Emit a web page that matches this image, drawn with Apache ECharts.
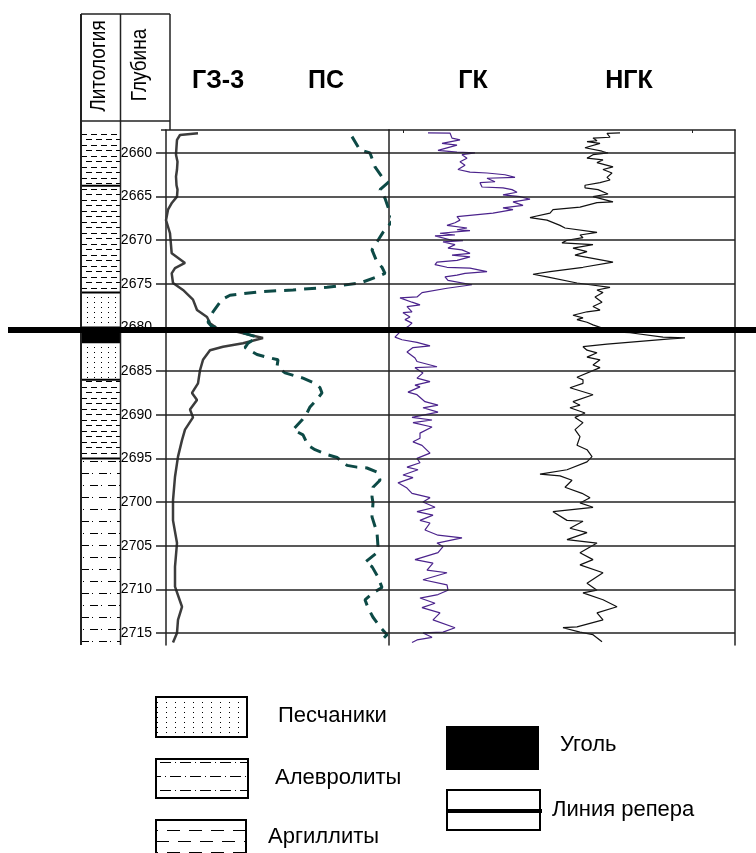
<!DOCTYPE html>
<html>
<head>
<meta charset="utf-8">
<script src="https://cdn.jsdelivr.net/npm/echarts@6/dist/echarts.min.js"></script>
<style>
  html, body { margin: 0; padding: 0; background: #fff; }
  #c { width: 756px; height: 853px; }
</style>
</head>
<body>
<div id="c"></div>
<script>
// ---- Depth scale (m) ----
const depthMin = 2657.37;
const depthMax = 2716.38;
const depthTicks = [2660, 2665, 2670, 2675, 2680, 2685, 2690, 2695, 2700, 2705, 2710, 2715];
const markerDepth = 2680.3;            // reference horizon (линия репера)
const trackTitles = ['ГЗ-3', 'ПС', 'ГК', 'НГК'];
const headerTitles = ['Литология', 'Глубина'];

// ---- Lithology column ----
const lithTop    = [2657.37, 2663.75, 2676.0, 2680.0, 2681.7, 2686.0, 2695.0];
const lithBottom = [2663.75, 2676.0, 2680.0, 2681.7, 2686.0, 2695.0, 2716.38];
const lithType   = ['clay', 'clay', 'sand', 'coal', 'sand', 'clay', 'silt'];
const lithNames  = { sand: 'Песчаники', silt: 'Алевролиты', clay: 'Аргиллиты', coal: 'Уголь' };
const markerName = 'Линия репера';

// ---- Log curves: [depth, reading] ----
const gz3 = [
  [2657.74, 3.2], [2657.94, 1.4], [2658.5, 1.1], [2659.3, 1.05], [2660.2, 1.0], [2661.0, 1.15],
  [2661.9, 1.1], [2662.7, 1.0], [2663.7, 1.05], [2664.2, 1.15], [2665.0, 1.1], [2665.7, 0.6],
  [2666.5, 0.2], [2667.7, 0.0], [2669.2, 0.4], [2671.5, 0.57], [2672.6, 1.9], [2673.2, 0.9],
  [2673.8, 0.57], [2674.9, 0.7], [2675.7, 1.7], [2676.8, 2.7], [2678.0, 3.1], [2678.8, 4.1],
  [2679.5, 4.4], [2680.1, 5.1], [2680.5, 7.1], [2681.2, 9.7], [2681.8, 7.7], [2682.2, 5.7],
  [2682.6, 4.4], [2683.7, 3.7], [2684.9, 3.4], [2686.4, 3.2], [2687.5, 2.6], [2688.3, 3.1],
  [2689.4, 2.4], [2690.3, 2.7], [2691.7, 1.9], [2692.9, 1.6], [2694.8, 1.2], [2697.1, 0.9],
  [2699.8, 0.7], [2702.1, 0.7], [2704.7, 1.1], [2707.4, 0.9], [2709.7, 0.9], [2712.0, 1.6],
  [2713.5, 1.2], [2715.0, 1.1], [2716.1, 0.7]
];

const ps = [
  [2658.13, 18.6], [2659.66, 19.4], [2660.0, 20.4], [2661.6, 20.9], [2662.9, 21.7], [2663.4, 22.2],
  [2664.2, 21.4], [2665.2, 21.9], [2666.2, 22.2], [2667.7, 22.7], [2669.1, 21.7], [2670.0, 21.2],
  [2671.1, 20.6], [2672.5, 21.1], [2673.1, 21.6], [2673.8, 21.9], [2674.2, 21.1], [2674.9, 19.4],
  [2675.4, 16.1], [2675.7, 12.7], [2675.9, 9.4], [2676.3, 6.4], [2676.8, 5.6], [2678.2, 4.7],
  [2679.4, 4.2], [2679.9, 4.6], [2680.5, 7.4], [2681.1, 9.1], [2681.8, 8.2], [2682.3, 7.9],
  [2683.1, 9.1], [2683.4, 10.1], [2683.7, 11.2], [2684.5, 11.1], [2685.2, 11.9], [2685.8, 13.7],
  [2686.4, 14.9], [2686.9, 15.4], [2687.5, 15.6], [2688.1, 15.2], [2689.1, 14.4], [2689.8, 14.1],
  [2690.6, 13.6], [2691.7, 12.7], [2692.3, 13.7], [2693.5, 14.2], [2694.0, 14.9], [2694.6, 16.2],
  [2694.9, 17.1], [2695.8, 18.1], [2696.0, 19.1], [2696.1, 20.1], [2696.6, 21.2], [2697.5, 21.4],
  [2698.3, 20.7], [2699.4, 20.6], [2700.1, 20.7], [2701.7, 20.6], [2703.5, 21.1], [2705.1, 21.2],
  [2705.8, 21.1], [2706.9, 19.9], [2707.4, 20.6], [2708.6, 21.2], [2709.8, 21.6], [2710.4, 20.7],
  [2711.2, 19.9], [2712.1, 20.2], [2713.2, 20.7], [2714.3, 21.4], [2715.2, 22.1], [2715.8, 21.6]
];

const gk = [
  [2657.7, 3.9], [2657.72, 6.1], [2658.3, 6.3], [2658.5, 7.1], [2658.9, 5.3], [2659.1, 6.8],
  [2659.7, 4.9], [2659.9, 6.8], [2660.0, 8.6], [2660.2, 7.3], [2660.6, 7.8], [2661.0, 7.1],
  [2661.4, 7.6], [2661.9, 6.9], [2662.2, 8.1], [2662.3, 9.8], [2662.5, 11.6], [2662.8, 12.6],
  [2662.9, 9.8], [2663.3, 10.6], [2663.4, 9.1], [2663.9, 9.3], [2664.0, 11.4], [2664.2, 12.3],
  [2664.5, 12.8], [2664.8, 11.4], [2665.0, 13.1], [2665.3, 14.1], [2665.6, 12.4], [2666.0, 13.4],
  [2666.3, 11.4], [2666.5, 12.4], [2666.9, 10.4], [2667.3, 6.8], [2667.7, 7.1], [2668.0, 6.6],
  [2668.3, 5.8], [2668.6, 7.8], [2668.8, 6.8], [2668.9, 8.1], [2669.2, 5.1], [2669.4, 6.6],
  [2669.5, 4.6], [2670.0, 6.3], [2670.05, 7.4], [2670.2, 5.4], [2670.5, 6.6], [2670.9, 5.9],
  [2671.1, 7.3], [2671.5, 8.1], [2671.7, 6.3], [2671.9, 8.1], [2672.3, 6.8], [2672.5, 4.8],
  [2672.8, 4.6], [2673.1, 5.8], [2673.2, 8.1], [2673.6, 9.8], [2673.8, 7.6], [2674.0, 6.8],
  [2674.2, 5.6], [2674.6, 5.9], [2675.1, 8.3], [2675.5, 5.8], [2676.0, 3.3], [2676.5, 2.8],
  [2676.6, 1.1], [2677.1, 2.3], [2677.4, 3.1], [2677.6, 1.8], [2678.2, 2.3], [2678.3, 1.4],
  [2678.8, 2.1], [2679.1, 1.6], [2679.5, 2.3], [2679.9, 1.9], [2680.5, 1.1], [2681.1, 0.6],
  [2681.4, 1.3], [2681.7, 2.8], [2682.1, 4.1], [2682.3, 2.4], [2682.8, 1.8], [2683.5, 2.6],
  [2683.9, 2.8], [2684.5, 4.8], [2684.6, 2.6], [2685.2, 3.4], [2685.8, 2.8], [2686.2, 4.1],
  [2686.6, 2.6], [2686.8, 3.1], [2687.4, 1.9], [2687.7, 2.8], [2688.5, 3.6], [2688.9, 4.9],
  [2689.2, 3.4], [2689.7, 4.9], [2690.3, 2.3], [2690.6, 4.3], [2690.9, 2.4], [2691.4, 4.3],
  [2692.1, 3.1], [2692.7, 3.1], [2693.1, 2.4], [2693.5, 3.3], [2694.4, 4.1], [2695.0, 2.8],
  [2695.5, 3.1], [2696.0, 1.8], [2696.3, 2.9], [2696.9, 1.4], [2697.2, 2.4], [2697.8, 0.9],
  [2698.4, 1.8], [2699.0, 2.3], [2699.5, 4.1], [2700.0, 3.4], [2700.6, 4.6], [2701.1, 2.8],
  [2701.5, 4.4], [2702.1, 3.1], [2702.4, 4.1], [2703.2, 3.6], [2703.8, 4.9], [2704.1, 7.3],
  [2704.7, 4.8], [2705.1, 5.4], [2705.8, 4.9], [2706.6, 2.6], [2707.0, 4.4], [2707.8, 3.8],
  [2708.1, 5.8], [2708.9, 3.4], [2709.5, 5.8], [2710.1, 5.9], [2710.6, 4.9], [2711.0, 3.1],
  [2711.6, 4.6], [2712.1, 3.3], [2712.7, 5.1], [2713.5, 4.4], [2714.4, 6.6], [2714.9, 5.4],
  [2715.0, 3.4], [2715.5, 4.3], [2715.8, 2.8], [2716.1, 2.3]
];

const ngk = [
  [2657.7, 23.1], [2657.75, 21.8], [2658.2, 22.1], [2658.3, 20.4], [2658.6, 20.8], [2658.7, 19.8],
  [2658.9, 21.1], [2659.4, 19.6], [2659.8, 21.3], [2660.0, 21.9], [2660.2, 20.4], [2660.6, 19.8],
  [2660.8, 21.4], [2661.1, 20.8], [2661.6, 22.4], [2661.9, 21.4], [2662.3, 22.3], [2662.8, 21.8],
  [2663.1, 22.1], [2663.4, 21.1], [2663.7, 19.6], [2664.0, 19.6], [2664.2, 20.9], [2664.7, 21.9],
  [2665.0, 20.4], [2665.6, 22.4], [2665.7, 20.8], [2666.2, 19.1], [2666.5, 16.4], [2666.9, 16.1],
  [2667.4, 14.1], [2667.7, 15.8], [2668.3, 17.1], [2668.6, 17.6], [2669.1, 20.8], [2669.4, 19.1],
  [2669.7, 19.4], [2670.0, 17.8], [2670.3, 17.3], [2670.5, 20.4], [2670.9, 18.4], [2671.3, 19.8],
  [2671.7, 18.6], [2672.5, 22.4], [2673.1, 19.4], [2673.6, 16.1], [2673.9, 14.4], [2674.2, 15.8],
  [2674.9, 18.8], [2675.1, 20.1], [2675.4, 22.1], [2675.7, 20.8], [2676.0, 21.4], [2676.5, 20.6],
  [2677.1, 21.3], [2677.6, 20.4], [2678.0, 21.1], [2678.2, 19.8], [2678.6, 18.4], [2678.9, 19.4],
  [2679.1, 18.8], [2679.4, 19.8], [2679.7, 20.4], [2680.5, 22.4], [2680.6, 24.1], [2681.1, 27.4],
  [2681.2, 29.6], [2681.3, 28.1], [2681.9, 21.8], [2682.2, 19.4], [2682.6, 19.8], [2682.9, 20.8],
  [2683.4, 19.8], [2683.7, 21.1], [2684.3, 20.4], [2684.6, 21.1], [2685.7, 18.8], [2686.0, 19.4],
  [2686.4, 19.4], [2686.9, 18.1], [2687.7, 20.4], [2688.5, 18.4], [2688.9, 19.1], [2689.2, 18.1],
  [2689.8, 19.6], [2690.3, 18.6], [2690.9, 19.4], [2691.7, 18.6], [2692.5, 19.1], [2693.5, 18.8],
  [2694.0, 19.8], [2694.8, 20.3], [2695.4, 19.8], [2696.3, 17.8], [2696.8, 15.1], [2697.0, 17.1],
  [2697.5, 18.3], [2698.3, 17.6], [2699.0, 19.3], [2699.5, 20.1], [2700.1, 19.1], [2700.6, 20.4],
  [2701.1, 16.4], [2702.1, 17.8], [2702.2, 19.4], [2703.0, 18.1], [2703.5, 19.8], [2704.3, 17.8],
  [2704.7, 20.8], [2705.8, 19.1], [2706.6, 20.4], [2707.2, 19.1], [2708.1, 21.4], [2709.3, 19.8],
  [2710.1, 20.8], [2710.4, 19.4], [2711.2, 21.4], [2712.0, 22.8], [2712.7, 20.8], [2713.5, 21.4],
  [2714.3, 18.8], [2714.4, 17.4], [2714.9, 19.1], [2715.2, 20.4], [2716.0, 21.3]
];

// Track scale limits (reading units per track)
const leftTrackMax = 22.3;
const rightTrackMax = 34.6;
const rightTopTicks = [1.4, 30.3];

// ---- Styling helpers ----
const FONT = '"Liberation Sans", Arial, Helvetica, sans-serif';
const AX = '#222';

function makeTile(w, h, draw) {
  const c = document.createElement('canvas');
  c.width = w; c.height = h;
  const g = c.getContext('2d');
  g.fillStyle = '#fff'; g.fillRect(0, 0, w, h);
  g.fillStyle = '#000';
  draw(g, w, h);
  return { image: c, repeat: 'repeat' };
}
// horizontal dash that wraps around the tile width
function dash(g, w, x, y, len, t) {
  for (let i = 0; i < len; i++) g.fillRect((x + i) % w, y, 1, t || 1);
}

const columnFills = {
  sand: makeTile(7, 5, g => g.fillRect(3, 2, 1, 1)),
  clay: makeTile(10, 11, (g, w) => { dash(g, w, 1, 2, 6); dash(g, w, 6, 7, 6); }),
  silt: makeTile(18, 24, (g, w) => {
    dash(g, w, 0, 5, 8); g.fillRect(11, 5, 1, 1);
    dash(g, w, 9, 17, 8); g.fillRect(2, 17, 1, 1);
  }),
  coal: '#000'
};
const legendFills = {
  sand: makeTile(9, 5, g => g.fillRect(4, 2, 1, 1)),
  clay: makeTile(22, 22, (g, w) => { dash(g, w, 2, 5, 13); dash(g, w, 13, 16, 13); }),
  silt: makeTile(20, 28, (g, w) => {
    dash(g, w, 0, 6, 11); g.fillRect(15, 6, 1, 1);
    dash(g, w, 10, 20, 11); g.fillRect(5, 20, 1, 1);
  }),
  coal: '#000'
};

const toXY = arr => arr.map(p => [p[1], p[0]]);

const depthLines = {
  silent: true,
  symbol: ['none', 'none'],
  label: { show: false },
  lineStyle: { color: AX, width: 1.5, type: 'solid' },
  emphasis: { disabled: true },
  animation: false,
  data: depthTicks.map(d => ({ yAxis: d }))
};

const yBase = {
  type: 'value', inverse: true, min: depthMin, max: depthMax,
  splitLine: { show: false }, axisLabel: { show: false },
  axisTick: { show: false }, axisLine: { show: false }
};
const xHidden = { type: 'value', show: false, splitLine: { show: false } };
const gridBase = { top: 130, height: 515, containLabel: false, outerBoundsMode: 'none' };

const chart = echarts.init(document.getElementById('c'), null, { renderer: 'canvas' });

chart.setOption({
  animation: false,
  backgroundColor: '#fff',
  grid: [
    Object.assign({ left: 81, width: 39 }, gridBase),
    Object.assign({ left: 166, width: 223 }, gridBase),
    Object.assign({ left: 389, width: 346 }, gridBase)
  ],
  xAxis: [
    Object.assign({ gridIndex: 0, min: 0, max: 1 }, xHidden),
    { type: 'value', gridIndex: 1, min: 0, max: leftTrackMax, position: 'top',
      axisLine: { show: true, onZero: false, lineStyle: { color: AX, width: 1.5 } },
      axisTick: { show: false }, axisLabel: { show: false }, splitLine: { show: false } },
    Object.assign({ gridIndex: 1, min: 0, max: leftTrackMax }, xHidden),
    { type: 'value', gridIndex: 2, min: 0, max: rightTrackMax, position: 'top',
      axisLine: { show: true, onZero: false, lineStyle: { color: AX, width: 1.5 } },
      axisTick: { show: true, inside: true, length: 3, customValues: rightTopTicks,
                  lineStyle: { color: AX, width: 1 } },
      axisLabel: { show: false }, splitLine: { show: false } },
    Object.assign({ gridIndex: 2, min: 0, max: rightTrackMax }, xHidden)
  ],
  yAxis: [
    Object.assign({}, yBase, { gridIndex: 0, show: false }),
    Object.assign({}, yBase, {
      gridIndex: 1, position: 'left',
      axisLine: { show: true, onZero: false, lineStyle: { color: AX, width: 1.5 } },
      axisTick: { show: true, inside: false, length: 10, customValues: depthTicks,
                  lineStyle: { color: AX, width: 1.5 } },
      axisLabel: { show: true, customValues: depthTicks, margin: 14, fontSize: 14,
                   color: '#000', fontFamily: FONT, formatter: v => String(Math.round(v)) }
    }),
    Object.assign({}, yBase, {
      gridIndex: 2, position: 'left',
      axisLine: { show: true, onZero: false, lineStyle: { color: AX, width: 1.5 } }
    }),
    Object.assign({}, yBase, {
      gridIndex: 2, position: 'right',
      axisLine: { show: true, onZero: false, lineStyle: { color: AX, width: 1.5 } }
    })
  ],
  series: [
    {
      name: 'Литология', type: 'custom', xAxisIndex: 0, yAxisIndex: 0,
      silent: true, clip: true,
      data: lithTop.map((t, i) => [t, lithBottom[i], i]),
      encode: { y: [0, 1] },
      renderItem: (params, api) => {
        const i = api.value(2);
        const a = api.coord([0, api.value(0)]);
        const b = api.coord([1, api.value(1)]);
        const children = [{
          type: 'rect',
          shape: { x: a[0], y: a[1], width: b[0] - a[0], height: b[1] - a[1] },
          style: { fill: columnFills[lithType[i]] }
        }];
        if (params.dataIndex > 0) {
          children.push({
            type: 'line',
            shape: { x1: a[0], y1: a[1], x2: b[0], y2: a[1] },
            style: { stroke: '#000', lineWidth: 2 }
          });
        }
        return { type: 'group', children };
      }
    },
    {
      name: 'ГЗ-3', type: 'line', xAxisIndex: 1, yAxisIndex: 1,
      data: toXY(gz3), showSymbol: false, silent: true, clip: false,
      lineStyle: { color: '#3c3c3c', width: 2.5 },
      markLine: depthLines
    },
    {
      name: 'ПС', type: 'line', xAxisIndex: 2, yAxisIndex: 1,
      data: toXY(ps), showSymbol: false, silent: true, clip: false,
      lineStyle: { color: '#0d4a46', width: 3, type: [12, 8], cap: 'butt' }
    },
    {
      name: 'ГК', type: 'line', xAxisIndex: 3, yAxisIndex: 2,
      data: toXY(gk), showSymbol: false, silent: true, clip: false,
      lineStyle: { color: '#4b238c', width: 1.2 },
      markLine: depthLines
    },
    {
      name: 'НГК', type: 'line', xAxisIndex: 4, yAxisIndex: 2,
      data: toXY(ngk), showSymbol: false, silent: true, clip: false,
      lineStyle: { color: '#111', width: 1.2 }
    }
  ]
});

// ---- Decorations: header, titles, reference line, legend ----
const yMarker = chart.convertToPixel({ yAxisIndex: 1 }, markerDepth);

const line = (x1, y1, x2, y2, w, color) => ({
  type: 'line', silent: true, z: 50,
  shape: { x1, y1, x2, y2 },
  style: { stroke: color || AX, lineWidth: w || 1.5 }
});
const text = (str, x, y, size, opts) => Object.assign({
  type: 'text', silent: true, z: 60, x, y,
  style: {
    text: str, font: (opts && opts.bold ? 'bold ' : '') + size + 'px ' + FONT,
    fill: '#000',
    textAlign: (opts && opts.align) || 'left', align: (opts && opts.align) || 'left',
    textVerticalAlign: 'middle', verticalAlign: 'middle'
  }
}, opts && opts.el);
const box = (x, y, w, h, fill) => ({
  type: 'rect', silent: true, z: 50,
  shape: { x, y, width: w, height: h },
  style: { fill, stroke: '#000', lineWidth: 2 }
});

const titleX = [218, 326, 473, 629];

const elements = [
  // header frame
  line(81, 14, 170, 14), line(81, 121, 170, 121),
  line(81, 14, 81, 645, 2), line(120.5, 14, 120.5, 645), line(170, 14, 170, 130),
  line(161, 130, 166, 130),
  text(headerTitles[0], 98.5, 66, 19, { align: 'center', el: { rotation: Math.PI / 2, scaleY: 1.15 } }),
  text(headerTitles[1], 140, 65, 19, { align: 'center', el: { rotation: Math.PI / 2, scaleY: 1.15 } }),
  // track titles
  ...trackTitles.map((t, i) => text(t, titleX[i], 81, 25, { bold: true, align: 'center' })),
  // reference horizon across the whole sheet
  Object.assign(line(8, yMarker, 756, yMarker, 6, '#000'), { z: 100 }),
  // legend
  box(156, 697, 91, 40, legendFills.sand),
  text(lithNames.sand, 278, 716, 22),
  box(156, 759, 92, 39, legendFills.silt),
  text(lithNames.silt, 275, 778, 22),
  box(156, 820, 90, 40, legendFills.clay),
  text(lithNames.clay, 268, 837, 22),
  box(447, 727, 91, 42, legendFills.coal),
  text(lithNames.coal, 560, 745, 22),
  box(447, 790, 93, 40, '#fff'),
  Object.assign(line(447, 811, 542, 811, 4, '#000'), { z: 55 }),
  text(markerName, 552, 810, 22)
];

chart.setOption({ graphic: { elements } });
</script>
</body>
</html>
